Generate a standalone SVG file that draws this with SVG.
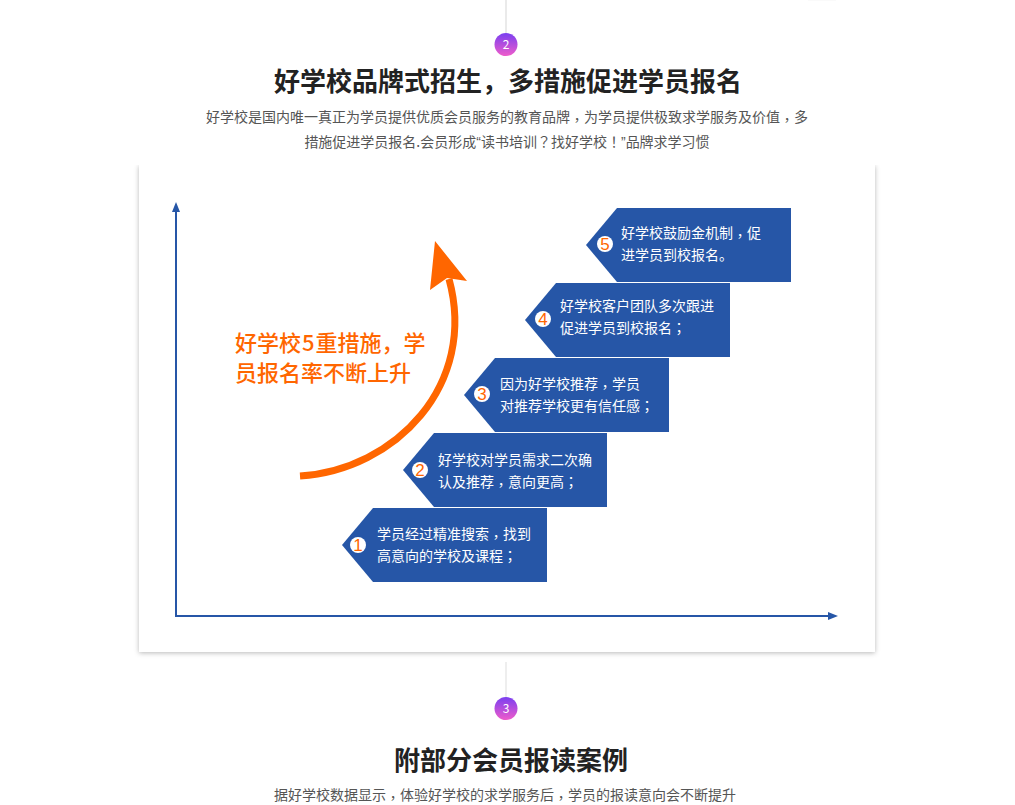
<svg xmlns="http://www.w3.org/2000/svg" width="1015" height="805" viewBox="0 0 1015 805">
<style>
text{font-family:"Noto Sans CJK SC","Noto Sans",sans-serif}
.h{font-size:26px;font-weight:700;fill:#222;text-anchor:middle}
.s{font-size:14px;fill:#555;text-anchor:middle}
.q{font-family:"Liberation Sans",sans-serif}
.p{font-family:"Noto Sans CJK TC",sans-serif}
.b{fill:#2656a7}
.t{font-size:14px;fill:#fff}
.c{fill:#fff}
.n{font-size:17px;fill:#f60;text-anchor:middle;font-family:"Liberation Sans",sans-serif}
.o{font-size:22px;fill:#f60;font-weight:500}
.m{font-size:12px;fill:#fff;text-anchor:middle}
.ax{fill:none;stroke:#2656a7;stroke-width:2}
</style>
<defs>
<linearGradient id="g" x1="0" y1="0" x2="0" y2="1"><stop offset="0" stop-color="#7a3ff0"/><stop offset="1" stop-color="#ee5ccb"/></linearGradient>
<filter id="sh" x="-5%" y="-5%" width="110%" height="110%"><feDropShadow dx="0" dy="1" stdDeviation="2.500" flood-color="#000" flood-opacity="0.28"/></filter>
<marker id="ah" viewBox="0 0 10 8" refX="1" refY="4" markerWidth="5" markerHeight="4" orient="auto"><path d="M0 0L10 4L0 8z" fill="#2656a7"/></marker>
</defs>
<rect width="1015" height="805" fill="#fff"/>
<rect x="808" y="0" width="28" height="1" fill="#fafafa"/>
<rect id="panel" x="139" y="165" width="736" height="487" fill="#fff" filter="url(#sh)"/>
<rect x="130" y="150" width="760" height="15" fill="#fff"/>
<g id="connectors">
<line x1="506" y1="0" x2="506" y2="33" stroke="#d5d5d5" stroke-width="1"/>
<line x1="506" y1="662" x2="506" y2="697" stroke="#ddd" stroke-width="1"/>
<path class="ax" d="M176 616H829" marker-end="url(#ah)"/>
<path class="ax" d="M176 617V211" marker-end="url(#ah)"/>
<path d="M300 476C395 470 478 385 449 279" fill="none" stroke="#f60" stroke-width="7"/>
<path d="M435 241L467 281L447 278L430 290z" fill="#f60"/>
</g>
<g id="step2-badge"><ellipse cx="506" cy="44.500" rx="11.500" ry="11.500" fill="url(#g)"/><text class="m" x="506" y="49">2</text></g>
<g id="section2-head">
<text class="h" x="508" y="91">好学校品牌式招生，多措施促进学员报名</text>
<text class="s" x="507" y="122">好学校是国内唯一真正为学员提供优质会员服务的教育品牌<tspan class="p" dy="3">，</tspan><tspan dy="-3">为学员提供极致求学服务及价值</tspan><tspan class="p" dy="3">，</tspan><tspan dy="-3">多</tspan></text>
<text class="s" x="507" y="147">措施促进学员报名.会员形成<tspan class="q">“</tspan>读书培训<tspan class="p">？</tspan>找好学校<tspan class="p">！</tspan><tspan class="q">”</tspan>品牌求学习惯</text>
</g>
<g id="slogan"><text class="o" x="235" y="351">好学校<tspan dx="1">5</tspan><tspan dx="1">重措施，学</tspan></text><text class="o" x="235" y="381">员报名率不断上升</text></g>
<g id="node1"><path class="b" d="M373 508H547V582H373L342 545z"/><circle class="c" cx="358" cy="545" r="8"/><text class="n" x="358" y="551">1</text><text class="t" x="377" y="539">学员经过精准搜索<tspan class="p" dy="3">，</tspan><tspan dy="-3">找到</tspan></text><text class="t" x="377" y="561">高意向的学校及课程<tspan class="p">；</tspan></text></g>
<g id="node2"><path class="b" d="M434 433H607V507H434L403 470z"/><circle class="c" cx="420" cy="470" r="8"/><text class="n" x="420" y="476">2</text><text class="t" x="438" y="465">好学校对学员需求二次确</text><text class="t" x="438" y="487">认及推荐<tspan class="p" dy="3">，</tspan><tspan dy="-3">意向更高</tspan><tspan class="p">；</tspan></text></g>
<g id="node3"><path class="b" d="M495 358H669V432H495L464 395z"/><circle class="c" cx="482" cy="394" r="8"/><text class="n" x="482" y="400">3</text><text class="t" x="500" y="389">因为好学校推荐<tspan class="p" dy="3">，</tspan><tspan dy="-3">学员</tspan></text><text class="t" x="500" y="411">对推荐学校更有信任感<tspan class="p">；</tspan></text></g>
<g id="node4"><path class="b" d="M556 283H730V357H556L525 320z"/><circle class="c" cx="543" cy="319" r="8"/><text class="n" x="543" y="325">4</text><text class="t" x="560" y="311">好学校客户团队多次跟进</text><text class="t" x="560" y="333">促进学员到校报名<tspan class="p">；</tspan></text></g>
<g id="node5"><path class="b" d="M617 208H791V282H617L586 245z"/><circle class="c" cx="605" cy="244" r="8"/><text class="n" x="605" y="250">5</text><text class="t" x="621" y="238">好学校鼓励金机制<tspan class="p" dy="3">，</tspan><tspan dy="-3">促</tspan></text><text class="t" x="621" y="260">进学员到校报名。</text></g>
<g id="step3-badge"><ellipse cx="506" cy="708.500" rx="11.500" ry="11.500" fill="url(#g)"/><text class="m" x="506" y="713">3</text></g>
<g id="section3-head">
<text class="h" x="511" y="770">附部分会员报读案例</text>
<text class="s" x="505" y="800">据好学校数据显示<tspan class="p" dy="3">，</tspan><tspan dy="-3">体验好学校的求学服务后</tspan><tspan class="p" dy="3">，</tspan><tspan dy="-3">学员的报读意向会不断提升</tspan></text>
</g>
</svg>
